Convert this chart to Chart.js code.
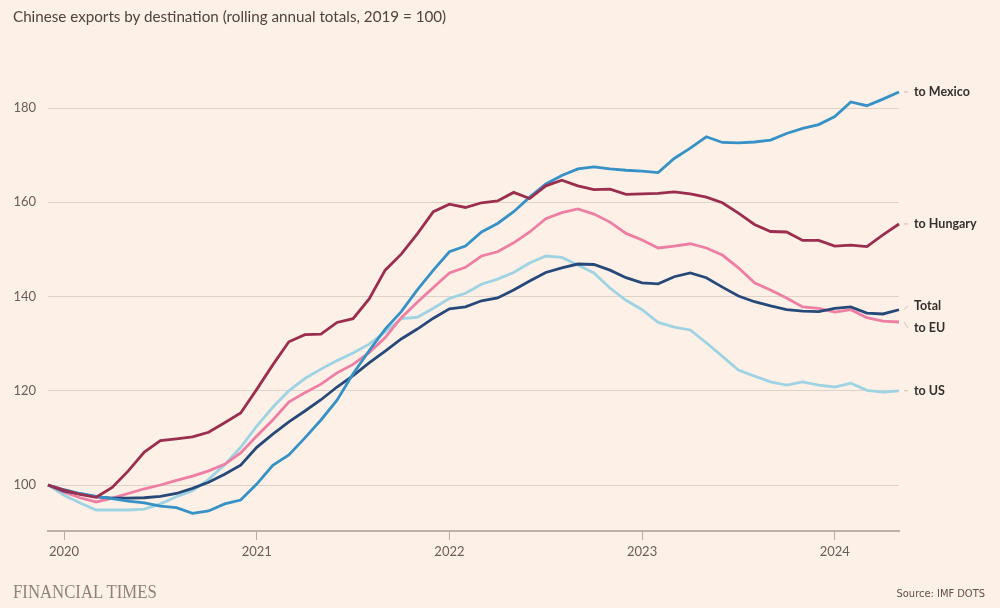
<!DOCTYPE html>
<html>
<head>
<meta charset="utf-8">
<title>Chinese exports by destination</title>
<script src="https://cdn.jsdelivr.net/npm/chart.js"></script>
<style>
  body { margin: 0; background: #fdf0e6; }
  #wrap { position: relative; width: 1000px; height: 608px; background: #fdf0e6; font-family: Lato, "Open Sans", sans-serif; }
  #title { position: absolute; left: 13px; top: 7px; font-size: 15.2px; color: #4b4541; white-space: nowrap; }
  #ft { position: absolute; left: 13px; top: 582px; font-family: "Liberation Serif", serif; font-size: 18px; color: #8c827b; transform-origin: left top; transform: scaleX(0.93); white-space: nowrap; }
  #source { position: absolute; right: 15px; top: 587px; font-family: "DejaVu Sans Condensed", "DejaVu Sans", sans-serif; font-size: 11px; color: #5a524d; white-space: nowrap; }
  canvas { position: absolute; left: 0; top: 0; }
</style>
</head>
<body>
<div id="wrap">
  <canvas id="chart" width="1000" height="608"></canvas>
  <div id="title">Chinese exports by destination (rolling annual totals, 2019 = 100)</div>
  <div id="ft">FINANCIAL TIMES</div>
  <div id="source">Source: IMF DOTS</div>
</div>

<script>
// monthly, Dec 2019 to May 2024
const months = [];
for (let i = 0; i < 54; i++) {
  const y = 2019 + Math.floor((11 + i) / 12);
  const m = (11 + i) % 12 + 1;
  months.push(y + '-' + String(m).padStart(2, '0'));
}

const yTicks = [100, 120, 140, 160, 180];

const toMexico = [100, 99.0, 98.2, 97.6, 97.1, 96.6, 96.2, 95.5, 95.2, 94.0, 94.5, 96.0, 96.8, 100.2,
  104.2, 106.4, 110.0, 113.8, 118.0, 123.6, 128.5, 133.1, 136.8, 141.4, 145.6, 149.5, 150.7, 153.7,
  155.5, 158.0, 161.1, 163.9, 165.7, 167.1, 167.5, 167.1, 166.8, 166.6, 166.3, 169.3, 171.5, 173.9,
  172.7, 172.6, 172.8, 173.2, 174.6, 175.7, 176.5, 178.2, 181.3, 180.5, 181.9, 183.4];

const toHungary = [100, 98.9, 98.0, 97.4, 99.5, 103.0, 107.0, 109.4, 109.8, 110.2, 111.2, 113.2, 115.3, 120.3,
  125.5, 130.4, 131.9, 132.0, 134.5, 135.3, 139.5, 145.6, 149.0, 153.3, 158.0, 159.6, 158.9, 159.9,
  160.3, 162.1, 160.8, 163.5, 164.7, 163.5, 162.7, 162.8, 161.7, 161.8, 161.9, 162.2, 161.8, 161.1,
  159.9, 157.7, 155.3, 153.8, 153.7, 151.9, 151.9, 150.7, 150.9, 150.6, 153.1, 155.4];

const total = [100, 98.7, 98.1, 97.5, 97.2, 97.2, 97.3, 97.6, 98.2, 99.3, 100.6, 102.3, 104.2, 108.0,
  110.8, 113.4, 115.7, 118.1, 120.8, 123.2, 125.9, 128.4, 131.0, 133.1, 135.4, 137.4, 137.8, 139.1,
  139.7, 141.4, 143.3, 145.1, 146.1, 146.9, 146.8, 145.6, 144.0, 142.9, 142.7, 144.2, 145.0, 144.0,
  142.0, 140.1, 138.9, 138.0, 137.2, 136.9, 136.8, 137.5, 137.8, 136.5, 136.3, 137.2];

const toEU = [100, 98.5, 97.3, 96.4, 97.2, 98.2, 99.2, 100.0, 101.0, 101.9, 103.0, 104.4, 106.8, 110.4,
  113.8, 117.6, 119.6, 121.4, 123.8, 125.6, 128.1, 131.3, 135.5, 138.8, 141.9, 145.0, 146.2, 148.6,
  149.5, 151.4, 153.7, 156.5, 157.8, 158.6, 157.5, 155.8, 153.4, 152.0, 150.3, 150.7, 151.2, 150.3,
  148.8, 146.1, 142.9, 141.4, 139.7, 137.8, 137.5, 136.7, 137.2, 135.5, 134.8, 134.6];

const toUS = [100, 97.8, 96.2, 94.7, 94.7, 94.7, 94.9, 96.0, 97.5, 98.8, 101.2, 104.3, 108.0, 112.5,
  116.5, 120.0, 122.6, 124.6, 126.4, 128.0, 129.9, 132.5, 135.3, 135.6, 137.5, 139.6, 140.7, 142.6,
  143.7, 145.1, 147.1, 148.6, 148.3, 146.7, 145.0, 141.8, 139.2, 137.2, 134.5, 133.5, 132.9, 130.2,
  127.3, 124.4, 123.1, 121.9, 121.2, 121.9, 121.2, 120.8, 121.6, 120.1, 119.7, 120.0];

// labels at the right end of each line
const endLabels = {
  id: 'endLabels',
  afterDatasetsDraw(chart) {
    const ctx = chart.ctx;
    const right = chart.chartArea.right;
    chart.data.datasets.forEach((ds, i) => {
      const pts = chart.getDatasetMeta(i).data;
      const last = pts[pts.length - 1];
      const ly = last.y + ds.labelShift;
      ctx.save();
      ctx.strokeStyle = '#cbbfb6';
      ctx.lineWidth = 1;
      ctx.beginPath();
      ctx.moveTo(right + 5, last.y);
      ctx.lineTo(right + 9, ly);
      ctx.stroke();
      ctx.fillStyle = '#33302e';
      ctx.font = 'bold 12.5px Lato';
      ctx.textBaseline = 'middle';
      ctx.fillText(ds.label, right + 15, ly);
      ctx.restore();
    });
  }
};

function line(label, data, color, labelShift) {
  return {
    label: label, data: data, borderColor: color, backgroundColor: color,
    borderWidth: 2.8, pointRadius: 0, tension: 0, labelShift: labelShift
  };
}

new Chart(document.getElementById('chart'), {
  type: 'line',
  data: {
    labels: months,
    datasets: [
      line('to Hungary', toHungary, '#9b2d4f', 0),
      line('to Mexico', toMexico, '#3591c6', 0),
      line('Total', total, '#26497a', -4),
      line('to EU', toEU, '#ee7ea4', 6),
      line('to US', toUS, '#9ed3e3', 0)
    ]
  },
  options: {
    responsive: false,
    devicePixelRatio: 1,
    animation: false,
    layout: { padding: { left: 13, right: 101, top: 60, bottom: 47 } },
    plugins: { legend: { display: false }, tooltip: { enabled: false } },
    scales: {
      x: {
        grid: {
          drawOnChartArea: false, drawTicks: true, tickLength: 9,
          tickColor: c => (months[c.index] || '').endsWith('-01') ? '#b5aaa3' : 'rgba(0,0,0,0)'
        },
        border: { display: true, color: '#bdb2ab', width: 2 },
        ticks: {
          autoSkip: false, maxRotation: 0, padding: 4, color: '#66605c',
          font: { family: 'Lato', size: 13 },
          callback: (v, i) => months[i].endsWith('-01') ? months[i].slice(0, 4) : ''
        },
        afterFit: s => { s.height = 30; }
      },
      y: {
        min: 90.24, max: 190.2,
        afterBuildTicks: s => { s.ticks = yTicks.map(v => ({ value: v })); },
        afterFit: s => { s.width = 35; },
        grid: { color: '#dfd3c9', lineWidth: 1, drawTicks: false },
        border: { display: false },
        ticks: { padding: 12, color: '#66605c', font: { family: 'Lato', size: 13 } }
      }
    }
  },
  plugins: [endLabels]
});
</script>
</body>
</html>
